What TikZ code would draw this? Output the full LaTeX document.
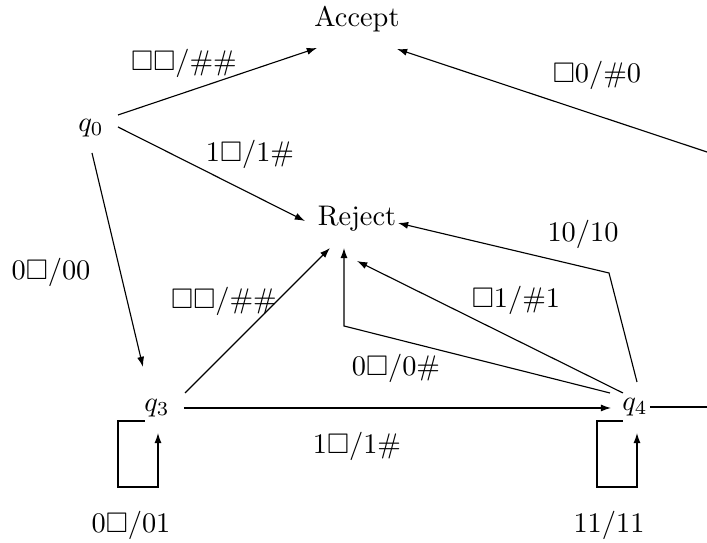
\documentclass[tikz,border=0pt]{standalone}
\usepackage{amssymb}
\usetikzlibrary{arrows.meta}

\begin{document}
\begin{tikzpicture}[
    x=0.3528pt, y=-0.3528pt,
    every node/.style={inner sep=0pt},
    trans/.style={draw, line width=0.4pt, -{Latex[length=3.6pt,width=2.5pt]}},
    wire/.style={draw, line width=0.4pt},
  ]
  \useasboundingbox (0,0) rectangle (707,543);

  % states
  \node (acc) at (357,19) {Accept};
  \node (q0)  at (91,128) {$q_0$};
  \node (rej) at (357,219) {Reject};
  \node (q3)  at (157,408) {$q_3$};
  \node (q4)  at (635,407) {$q_4$};

  % ends of transitions that leave the drawing area on the right
  \coordinate (farA) at (707,152);
  \coordinate (farB) at (707,407);

  % bend points
  \coordinate (b1) at (344,326);
  \coordinate (b2) at (609,273);

  % transitions out of q0
  \draw[trans] ([shift={(27,-13)}]q0.center) -- ([shift={(-40,29)}]acc.center);
  \draw[trans] ([shift={(27,-1)}]q0.center) -- ([shift={(-52,2)}]rej.center);
  \draw[trans] ([shift={(1,25)}]q0.center) -- ([shift={(-14,-41)}]q3.center);

  % incoming transition to Accept from the right
  \draw[trans] (farA) -- ([shift={(40,30)}]acc.center);

  % transitions out of q3
  \draw[trans] ([shift={(28,-15)}]q3.center) -- ([shift={(-27,29)}]rej.center);
  \draw[trans] ([shift={(27,0)}]q3.center) -- ([shift={(-24,1)}]q4.center);
  \draw[trans] ([shift={(-12,13)}]q3.center) -- ++(-27,0) -- ++(0,66) -- ++(40,0)
    -- ([shift={(1,25)}]q3.center);

  % transitions out of q4
  \draw[trans] ([shift={(-25,-14)}]q4.center) -- (b1) -- ([shift={(-13,29)}]rej.center);
  \draw[trans] ([shift={(-12,-14)}]q4.center) -- ([shift={(0,42)}]rej.center);
  \draw[trans] ([shift={(2,-25)}]q4.center) -- (b2) -- ([shift={(41,4)}]rej.center);
  \draw[wire] ([shift={(15,0)}]q4.center) -- (farB);
  \draw[trans] ([shift={(-12,14)}]q4.center) -- ++(-26,0) -- ++(0,66) -- ++(40,0)
    -- ([shift={(2,26)}]q4.center);

  % transition labels
  \node (l1)  at (184,63)  {$\square\square/\#\#$};
  \node (l2)  at (250,154) {$1\square/1\#$};
  \node (l3)  at (51,272)  {$0\square/00$};
  \node (l4)  at (597,75)  {$\square0/\#0$};
  \node (l5)  at (224,301) {$\square\square/\#\#$};
  \node (l6)  at (396,368) {$0\square/0\#$};
  \node (l7)  at (516,300) {$\square1/\#1$};
  \node (l8)  at (583,234) {$10/10$};
  \node (l9)  at (357,446) {$1\square/1\#$};
  \node (l10) at (131,525) {$0\square/01$};
  \node (l11) at (609,525) {$11/11$};
\end{tikzpicture}
\end{document}
